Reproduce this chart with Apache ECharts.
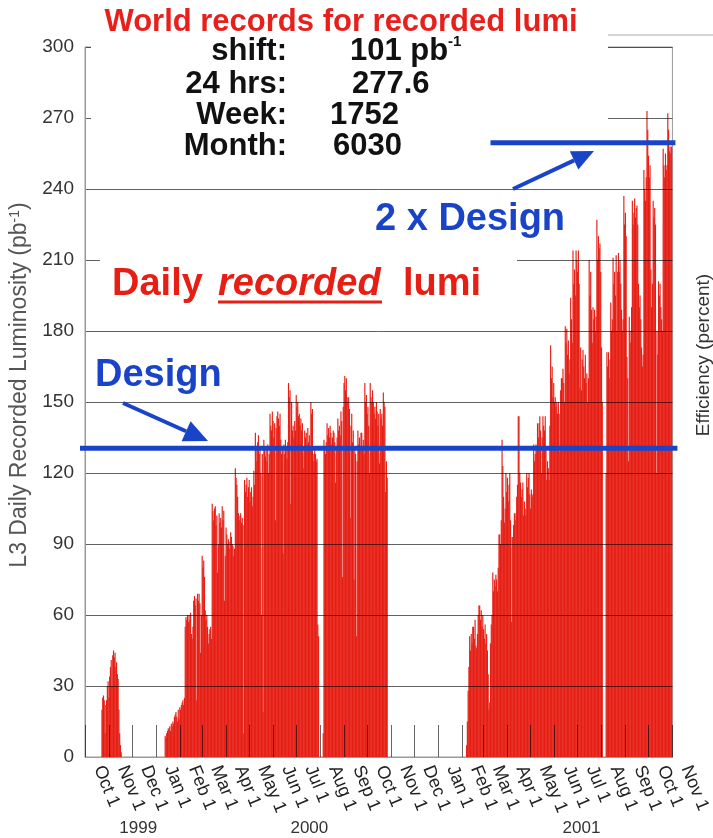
<!DOCTYPE html>
<html><head><meta charset="utf-8">
<script src="https://cdn.jsdelivr.net/npm/echarts@6/dist/echarts.min.js"></script>
<style>html,body{margin:0;padding:0;background:#fff}#c{width:713px;height:838px}</style>
</head><body><div id="c"></div>
<script>
// ---- axis range (daily categories) ----
const axisStart = '1999-10-01';
const axisEnd = '2001-11-01';
const monthNames = ['Jan','Feb','Mar','Apr','May','Jun','Jul','Aug','Sep','Oct','Nov','Dec'];
const yMin = 0, yMax = 300, yStep = 30;
const yearLabels = ['1999', '2000', '2001'];
const yearLabelDates = ['1999-12-09', '2000-07-18', '2001-07-06'];

// ---- daily recorded luminosity (pb^-1) ----
const run1999Start = '1999-10-23';
const run1999 = [20,25,26,24,10,22,24,30,32,25,34,38,41,30,43,45,42,44,38,40,35,33,20,10,5,2];

const run2000Start = '2000-01-13';
const run2000 = [
 9,8,10,11,12, 12,13,11,14, 13,15,14,17, 18,19,17,15,20, 16,21,20,22, 23,24,22,25,
 55,59,58,60,57, 60,58,61, 52,50,55,66, 68,64,67, 24,69, 66,69,65, 44,60,
 85,80,83,76, 62,58,60, 55,48,52,54, 55,50,
 107,104,100,105, 106,98,102, 78,90, 103,99,101,97, 106,100,104, 66,85,
 97,94,90, 92,88,91, 95,93,90, 89,85,88, 122,118,115,110, 103,100,102, 103,99,101,98, 10,
 117,112,115, 118,110,114, 117,108,112, 114,106,110, 121,115,
 137,130,125,133, 136,128,131, 120,60,128, 19,134,130,127, 130,125,132,120,128,
 145,140,138,146,142,135, 141,100,139,144, 146,143,140,145, 134,128,131, 86,
 132,128,134,130,126,133, 158,152,155, 107,150,138, 140,135,142,138,
 153,148,150,144, 145,140,143,138,141, 122,130, 138,135,137,132, 139,133,136,131,
 150,145,147, 125,128, 130,128,125,126, 56,51, 0,0,0,0,0, 10,
 134,130,128,133, 141,136,139,135,140, 137,132,135,138, 137,133,116,130,135,
 143,138,140,136, 146,142, 76, 148,158, 161,155,160,152, 150,152,147, 101,140,
 145,133,138, 75,130, 128,51,125, 138,132,135,130,137, 137,130,134,128,
 158,150,153,145, 148,140,120, 158,152,150,155, 150,145,148,143, 150,146,140,145,
 124, 147,143,145,140, 154,150,148, 112,125,118
];

const run2001Start = '2001-02-07';
const run2001 = [
 5,15,28,38, 51,45,52,48,55, 55,50,58,47, 46,52,60,64, 64,58,62,55,60, 54,50,56,48,
 52,45,35,20, 23,48,56,60, 78,70,75,72,77, 75,70,80,94, 94,90,100,134, 123,110,99,105,
 120,112,118,108,115, 120,100,57,93, 93,98,103,100, 103,110,115,144, 144,120,116,110,113,
 116,102,108,105, 102,120,114,118, 120,111,105,113,110, 111,132,125,128, 132,130,141,135,
 141,144,138,120, 135,144,140,138, 144,130,117,125,122, 117,140,174,160, 165,152,158,150,
 152,148,150,145, 150,145,129,155,160, 160,164,158,150, 182,175,181,170, 176,162,168,194,
 185,175,214,200,206, 195,214,210,205, 214,200,156,
 173,155,168,172, 165,160,170,158, 162,150,160, 210,195,205, 189,175,190,185, 189,180,186,
 227,210,220,215, 217,205, 173,150, 0,0,0,0, 120,171,165, 171,160,168, 192,180,185,
 211,200,205,195, 212,180,205, 213,205,210,200, 189,180,185, 237,225,230,220, 169,160,125,
 186,180,175,190, 235,225,230, 236,228,232, 233,225, 200,190,195,185, 173,165,170,
 248,240,235,245, 273,265, 254,245,250, 206,190,200, 235,228,232,225, 120,180,170,
 201,195,200, 190,185,180, 257,250,245, 255,248,250, 272,265, 256,258,255,258
];

// ---- reference levels ----
const designLevel = 130.5;
const twiceDesignLevel = 259.5;
const twiceDesignFrom = '2001-03-10';

// ---- build table ----
function iso(t){ return new Date(t).toISOString().slice(0,10); }
const dates = [];
for (let t = Date.parse(axisStart + 'T00:00:00Z'); t <= Date.parse(axisEnd + 'T00:00:00Z'); t += 86400000) dates.push(iso(t));
const values = dates.map(() => 0);
[[run1999Start, run1999],[run2000Start, run2000],[run2001Start, run2001]].forEach(([s, arr]) => {
  const i0 = dates.indexOf(s);
  arr.forEach((v, k) => { if (i0 + k < values.length) values[i0 + k] = v; });
});

const RED = '#e61e14', BLUE = '#1a44c8';
const FONT = '"Liberation Sans", Arial, Helvetica, sans-serif';
const isMonthStart = (i, v) => v.slice(8) === '01';

const chart = echarts.init(document.getElementById('c'), null, {renderer: 'canvas'});
chart.setOption({
  animation: false,
  backgroundColor: '#ffffff',
  grid: {left: 85, top: 47, width: 598, height: 710, show: true, borderColor: '#9a9a9a', borderWidth: 1, backgroundColor: 'transparent'},
  xAxis: {
    type: 'category', data: dates, boundaryGap: false, z: 5,
    axisLine: {lineStyle: {color: '#999', width: 1}},
    axisTick: {inside: true, length: 32, interval: isMonthStart, lineStyle: {color: 'rgba(0,0,0,0.6)', width: 1}},
    axisLabel: {
      interval: isMonthStart, rotate: -68, margin: -24, padding: [0, 0, 0, 36],
      formatter: v => monthNames[+v.slice(5, 7) - 1] + ' 1',
      fontSize: 18, color: '#222', fontFamily: FONT
    },
    splitLine: {show: false}
  },
  yAxis: {
    type: 'value', min: yMin, max: yMax, interval: yStep, z: 5,
    axisLine: {show: true, lineStyle: {color: '#999'}},
    axisTick: {show: false},
    axisLabel: {fontSize: 19, color: '#333', margin: 11, fontFamily: FONT},
    splitLine: {lineStyle: {color: 'rgba(0,0,0,0.62)', width: 1}},
    name: 'L3 Daily Recorded Luminosity (pb{sup|-1})',
    nameLocation: 'middle', nameGap: 50,
    nameTextStyle: {fontSize: 23, color: '#555', fontFamily: FONT, padding: [0, 0, 0, 34],
      rich: {sup: {fontSize: 14, color: '#555', verticalAlign: 'top', fontFamily: FONT}}}
  },
  series: [{
    type: 'bar', data: values, barWidth: 1.15, z: 2,
    itemStyle: {color: RED}, silent: true
  }]
});

// ---- annotations ----
function arrow(x1, y1, x2, y2, len, hw, w){
  const dx = x2 - x1, dy = y2 - y1, L = Math.hypot(dx, dy), ux = dx / L, uy = dy / L;
  const bx = x2 - ux * len, by = y2 - uy * len, px = -uy, py = ux;
  return [
    {type: 'line', z: 120, shape: {x1, y1, x2: bx, y2: by}, style: {stroke: BLUE, lineWidth: w}},
    {type: 'polygon', z: 120, shape: {points: [[x2, y2], [bx + px * hw, by + py * hw], [bx - px * hw, by - py * hw]]}, style: {fill: BLUE}}
  ];
}
function txt(x, y, text, font, fill, align){
  return {type: 'text', z: 130, x, y, style: {text, font, fill, textAlign: align, align, textVerticalAlign: 'middle', verticalAlign: 'middle'}};
}
const xL = chart.convertToPixel({xAxisIndex: 0}, dates[0]);
const xR = chart.convertToPixel({xAxisIndex: 0}, dates[dates.length - 1]);
const yD = chart.convertToPixel({yAxisIndex: 0}, designLevel);
const y2D = chart.convertToPixel({yAxisIndex: 0}, twiceDesignLevel);
const x2D = chart.convertToPixel({xAxisIndex: 0}, twiceDesignFrom);
const yBase = chart.convertToPixel({yAxisIndex: 0}, 0);

const g = [];
g.push({type: 'rect', z: 100, shape: {x: 91, y: 26, width: 517, height: 150}, style: {fill: '#fff'}});
g.push({type: 'rect', z: 100, shape: {x: 100, y: 196, width: 417, height: 122}, style: {fill: '#fff'}});
g.push({type: 'line', z: 101, shape: {x1: 608, y1: 35, x2: 713, y2: 35}, style: {stroke: '#aaa', lineWidth: 1}});
g.push({type: 'line', z: 115, shape: {x1: xL - 5, y1: yD, x2: xR + 5, y2: yD}, style: {stroke: BLUE, lineWidth: 5}});
g.push({type: 'line', z: 115, shape: {x1: x2D, y1: y2D, x2: xR + 3, y2: y2D}, style: {stroke: BLUE, lineWidth: 5}});
g.push(...arrow(123, 403, 208, 441, 24, 11, 4));
g.push(...arrow(513, 189, 594, 151, 22, 10, 4));
const B31 = 'bold 31px ' + FONT, B38 = 'bold 38px ' + FONT;
g.push(txt(341, 22, 'World records for recorded lumi', B31, '#e8201c', 'center'));
g.push(txt(287, 51, 'shift:', B31, '#111', 'right'));
g.push(txt(287, 84, '24 hrs:', B31, '#111', 'right'));
g.push(txt(287, 115, 'Week:', B31, '#111', 'right'));
g.push(txt(287, 146, 'Month:', B31, '#111', 'right'));
g.push(txt(350, 51, '101 pb', B31, '#111', 'left'));
g.push(txt(448, 42, '-1', 'bold 15px ' + FONT, '#111', 'left'));
g.push(txt(352, 84, '277.6', B31, '#111', 'left'));
g.push(txt(330, 115, '1752', B31, '#111', 'left'));
g.push(txt(333, 146, '6030', B31, '#111', 'left'));
g.push(txt(375, 220, '2 x Design', B38, BLUE, 'left'));
g.push(txt(112, 285, 'Daily', B38, RED, 'left'));
g.push(txt(218, 285, 'recorded', 'italic bold 38px ' + FONT, RED, 'left'));
g.push({type: 'line', z: 130, shape: {x1: 218, y1: 302, x2: 382, y2: 302}, style: {stroke: RED, lineWidth: 3}});
g.push(txt(403, 285, 'lumi', B38, RED, 'left'));
g.push(txt(95, 376, 'Design', B38, BLUE, 'left'));
g.push({type: 'text', z: 130, x: 704, y: 355, rotation: Math.PI / 2,
  style: {text: 'Efficiency (percent)', font: '19px ' + FONT, fill: '#333', textAlign: 'center', align: 'center', textVerticalAlign: 'middle', verticalAlign: 'middle'}});
yearLabels.forEach((t, k) => {
  const x = chart.convertToPixel({xAxisIndex: 0}, yearLabelDates[k]);
  g.push({type: 'text', z: 130, x, y: yBase + 71, style: {text: t, font: '17px ' + FONT, fill: '#333', textAlign: 'center', align: 'center', textVerticalAlign: 'middle', verticalAlign: 'middle'}});
});
chart.setOption({graphic: {elements: g}});
</script>
</body></html>
